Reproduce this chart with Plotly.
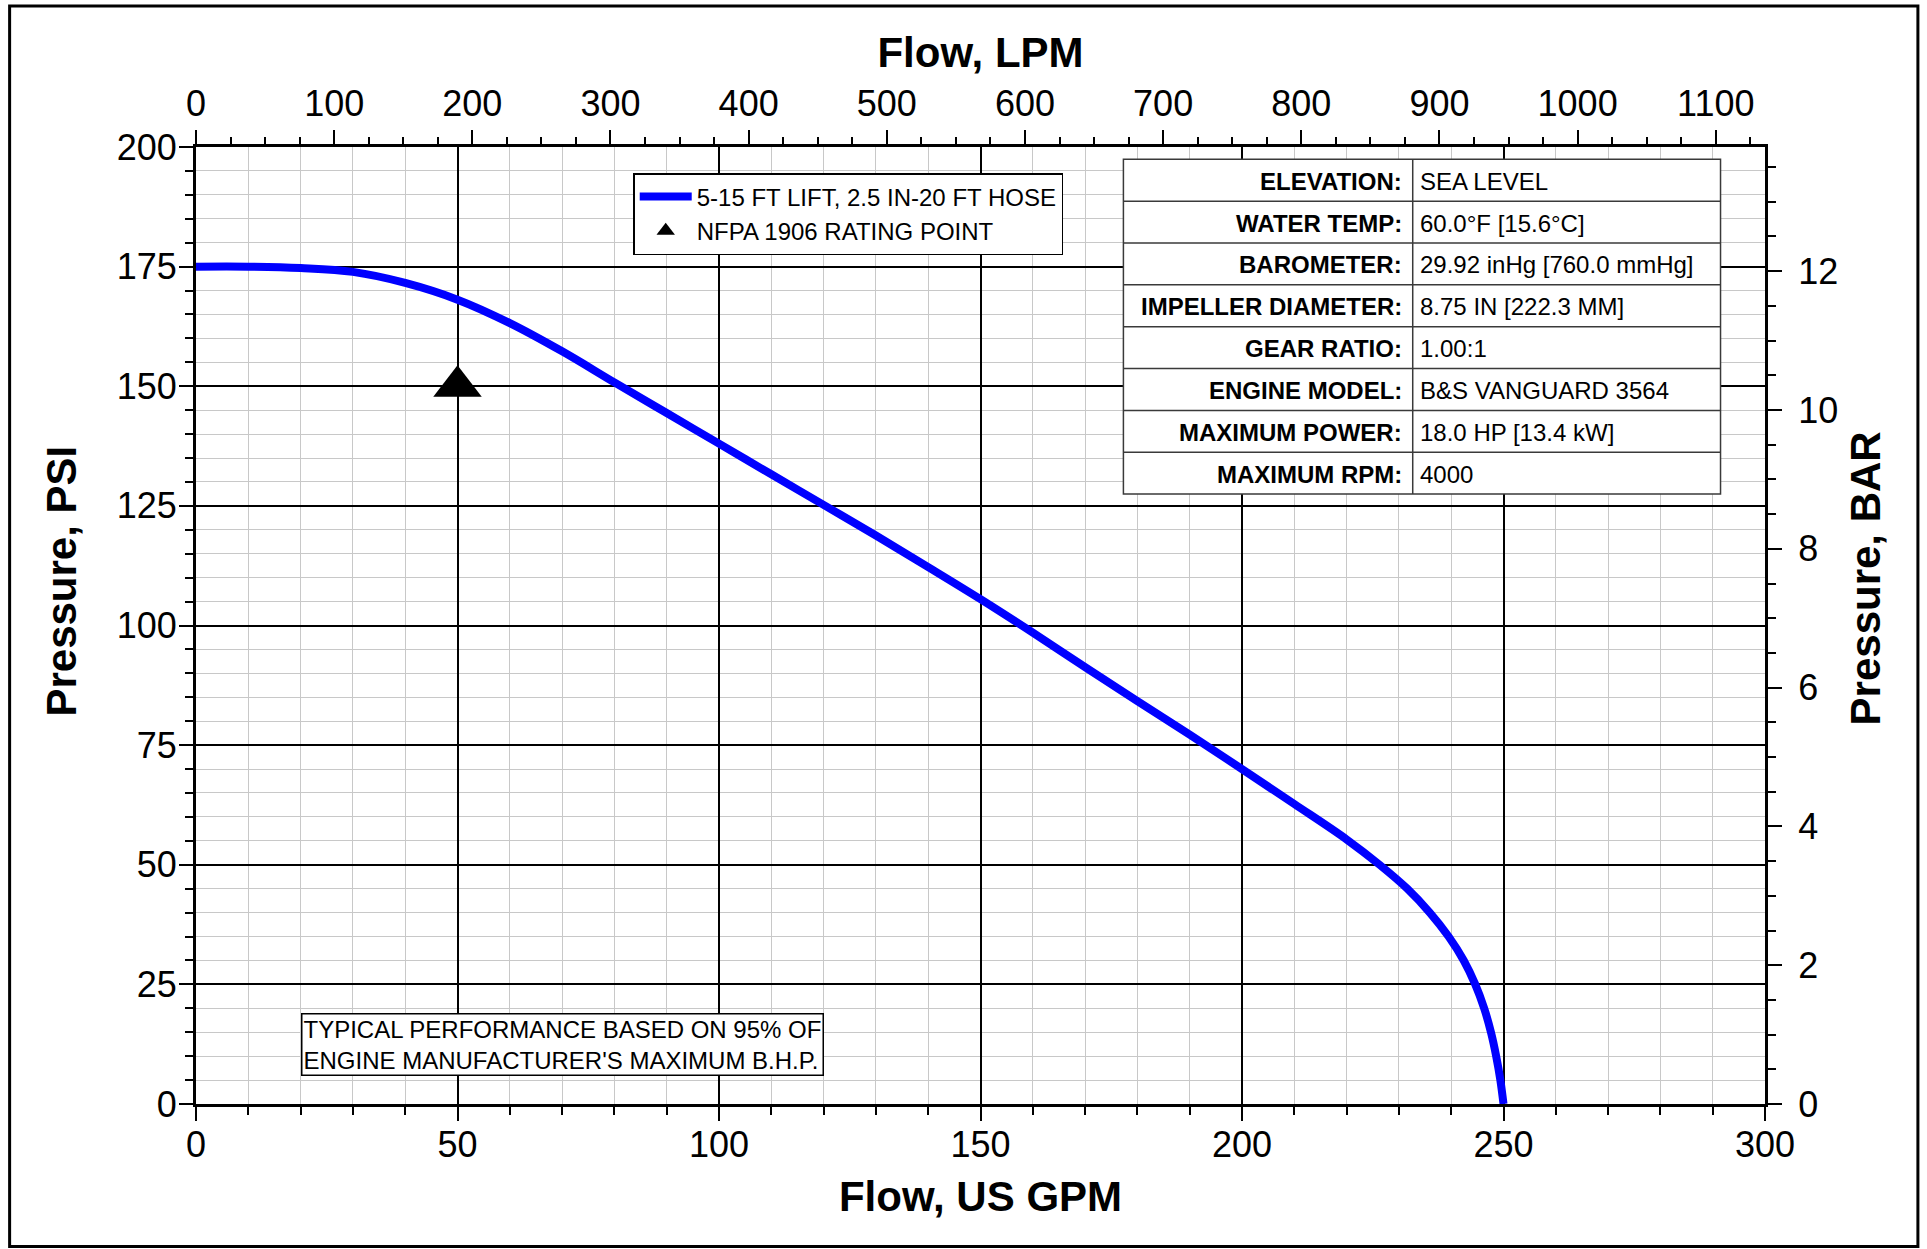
import plotly.graph_objects as go

# ---------------- data ----------------
flow_gpm = [0, 10, 20, 30, 40, 50, 60, 70, 80, 90, 100, 110, 120, 130, 140, 150,
            160, 170, 180, 190, 200, 210, 220, 226.3, 231.6, 235.9, 239.5, 242.4,
            244.6, 246.3, 247.6, 248.6, 249.4, 250]
pressure_psi = [175, 175, 174.7, 173.9, 171.6, 168.1, 163.2, 157.3, 150.8, 144.4, 138,
                131.6, 125.2, 118.8, 112.2, 105.5, 98.5, 91.3, 84.2, 77.2, 70, 62.7,
                55.3, 50, 45, 40, 35, 30, 25, 20, 15, 10, 5, 0]
rating_gpm = [50]
rating_psi = [150]
legend_names = ["5-15 FT LIFT, 2.5 IN-20 FT HOSE", "NFPA 1906 RATING POINT"]

table_labels = ["ELEVATION:", "WATER TEMP:", "BAROMETER:", "IMPELLER DIAMETER:",
                "GEAR RATIO:", "ENGINE MODEL:", "MAXIMUM POWER:", "MAXIMUM RPM:"]
table_values = ["SEA LEVEL", "60.0°F [15.6°C]", "29.92 inHg [760.0 mmHg]",
                "8.75 IN [222.3 MM]", "1.00:1", "B&S VANGUARD 3564",
                "18.0 HP [13.4 kW]", "4000"]
note_lines = ["TYPICAL PERFORMANCE BASED ON 95% OF",
              "ENGINE MANUFACTURER'S MAXIMUM B.H.P."]

x_title = "Flow, US GPM"
x2_title = "Flow, LPM"
y_title = "Pressure, PSI"
y2_title = "Pressure, BAR"

GPM_TO_LPM = 3.785411784
PSI_TO_BAR = 0.0689475729
X_MAX = 300
Y_MAX = 200

# ---------------- layout geometry ----------------
W, H = 1927, 1249
L, R, T, B = 195.5, 1765.5, 147, 1104
FONT = "Liberation Sans, Arial, Helvetica, sans-serif"


def px(x):
    return (x - L) / (R - L)


def py(y):
    return (B - y) / (B - T)


fig = go.Figure()

fig.add_trace(go.Scatter(
    x=flow_gpm, y=pressure_psi, mode="lines", name=legend_names[0],
    line=dict(color="#0000FF", width=8, shape="spline", smoothing=1.0),
    xaxis="x", yaxis="y"))

fig.add_trace(go.Scatter(
    x=rating_gpm, y=rating_psi, mode="markers", name=legend_names[1],
    marker=dict(symbol="triangle-up", size=42, color="black"),
    xaxis="x", yaxis="y"))

# helper trace so the secondary (LPM / BAR) axes are drawn
fig.add_trace(go.Scatter(x=[None], y=[None], xaxis="x2", yaxis="y2",
                         showlegend=False, hoverinfo="skip"))

tickfont = dict(family=FONT, size=36, color="black")
titlefont = dict(family=FONT, size=42, color="black", weight="bold")
minor_grid = "#c8c8c8"

common = dict(showline=True, linecolor="black", linewidth=3, ticks="outside",
              tickcolor="black", tickwidth=2, ticklen=14, zeroline=False,
              tickfont=tickfont)

fig.update_layout(
    width=W, height=H,
    margin=dict(l=L, r=W - R, t=T, b=H - B, autoexpand=False),
    paper_bgcolor="white", plot_bgcolor="white",
    font=dict(family=FONT, color="black"),
    showlegend=True,
    legend=dict(x=px(633), y=py(173), xanchor="left", yanchor="top",
                bgcolor="white", bordercolor="black", borderwidth=1.5,
                font=dict(family=FONT, size=24, color="black"),
                itemwidth=52, tracegroupgap=0, traceorder="normal",
                itemsizing="trace"),
    xaxis=dict(range=[0, X_MAX], dtick=50, tick0=0,
               showgrid=True, gridcolor="black", gridwidth=2,
               minor=dict(dtick=10, showgrid=True, gridcolor=minor_grid, gridwidth=1,
                          ticks="outside", ticklen=8, tickwidth=2, tickcolor="black"),
               title=dict(text=x_title, font=titlefont, standoff=18),
               ticklabelstandoff=-7,
               **common),
    yaxis=dict(range=[0, Y_MAX], dtick=25, tick0=0,
               showgrid=True, gridcolor="black", gridwidth=2,
               minor=dict(dtick=5, showgrid=True, gridcolor=minor_grid, gridwidth=1,
                          ticks="outside", ticklen=8, tickwidth=2, tickcolor="black"),
               ticklabelstandoff=-5,
               **common),
    xaxis2=dict(range=[0, X_MAX * GPM_TO_LPM], dtick=100, tick0=0,
                overlaying="x", anchor="y", side="top", showgrid=False,
                minor=dict(dtick=25, ticks="outside", ticklen=7, tickwidth=2,
                           tickcolor="black", showgrid=False),
                title=dict(text=x2_title, font=titlefont, standoff=2),
                **common),
    yaxis2=dict(range=[0, Y_MAX * PSI_TO_BAR], dtick=2, tick0=0,
                overlaying="y", anchor="x", side="right", showgrid=False,
                minor=dict(dtick=0.5, ticks="outside", ticklen=8, tickwidth=2,
                           tickcolor="black", showgrid=False),
                ticklabelstandoff=9,
                **common),
)

shapes = []
annotations = []

# outer frame
shapes.append(dict(type="rect", xref="paper", yref="paper",
                   x0=px(9), x1=px(1918.5), y0=py(6), y1=py(1246.5),
                   line=dict(color="black", width=3), fillcolor="rgba(0,0,0,0)",
                   layer="above"))

# y axis titles (placed as in the reference, slightly above centre)
annotations.append(dict(text=y_title, xref="paper", yref="paper", x=px(60), y=py(581),
                        xanchor="center", yanchor="middle", textangle=-90,
                        showarrow=False, font=titlefont))
annotations.append(dict(text=y2_title, xref="paper", yref="paper", x=px(1866), y=py(578),
                        xanchor="center", yanchor="middle", textangle=-90,
                        showarrow=False, font=titlefont))

# info table
tb_left, tb_right, tb_div, tb_top, row_h = 1123.5, 1721, 1413, 159.3, 41.85
n_rows = len(table_labels)
tb_bottom = tb_top + n_rows * row_h
border = dict(color="#3a3a3a", width=1.5)
shapes.append(dict(type="rect", xref="paper", yref="paper",
                   x0=px(tb_left), x1=px(tb_right), y0=py(tb_bottom), y1=py(tb_top),
                   line=border, fillcolor="white", layer="above"))
shapes.append(dict(type="line", xref="paper", yref="paper",
                   x0=px(tb_div), x1=px(tb_div), y0=py(tb_bottom), y1=py(tb_top),
                   line=border, layer="above"))
for i in range(1, n_rows):
    yy = tb_top + i * row_h
    shapes.append(dict(type="line", xref="paper", yref="paper",
                       x0=px(tb_left), x1=px(tb_right), y0=py(yy), y1=py(yy),
                       line=border, layer="above"))
for i, (lab, val) in enumerate(zip(table_labels, table_values)):
    yc = tb_top + (i + 0.5) * row_h + 1
    annotations.append(dict(text=lab, xref="paper", yref="paper", x=px(tb_div - 9), y=py(yc),
                            xanchor="right", yanchor="middle", showarrow=False,
                            font=dict(family=FONT, size=24, color="black", weight="bold")))
    annotations.append(dict(text=val, xref="paper", yref="paper", x=px(tb_div + 5), y=py(yc),
                            xanchor="left", yanchor="middle", showarrow=False,
                            font=dict(family=FONT, size=24, color="black")))

# performance note
annotations.append(dict(text="<br>".join(note_lines), xref="paper", yref="paper",
                        x=px(301), y=py(1013), xanchor="left", yanchor="top",
                        align="left", showarrow=False, bgcolor="white",
                        bordercolor="black", borderwidth=1.5, borderpad=1,
                        font=dict(family=FONT, size=24, color="black")))

fig.update_layout(shapes=shapes, annotations=annotations)

fig.write_html("out.html", config={"displayModeBar": False},
               post_script="document.body.style.margin='0px';")
